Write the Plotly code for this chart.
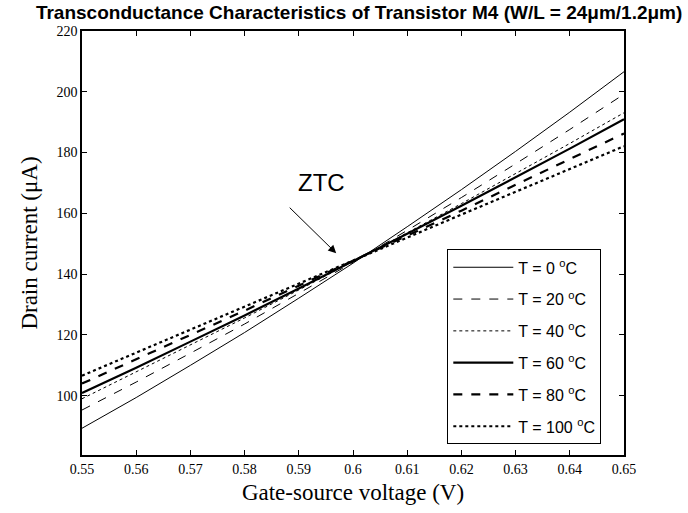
import plotly.graph_objects as go

vgs = [0.55, 0.56, 0.57, 0.58, 0.59, 0.60, 0.61, 0.62, 0.63, 0.64, 0.65]
i_t0 = [89.3, 99.4, 110.0, 120.8, 132.1, 143.6, 155.6, 167.8, 180.4, 193.3, 206.6]
i_t20 = [95.3, 104.5, 114.0, 123.6, 133.7, 143.9, 154.4, 165.2, 176.3, 187.6, 199.2]
i_t40 = [99.0, 107.8, 116.6, 125.6, 134.8, 144.1, 153.6, 163.2, 173.0, 183.0, 193.1]
i_t60 = [100.9, 109.2, 117.8, 126.4, 135.3, 144.2, 153.3, 162.5, 171.9, 181.3, 191.0]
i_t80 = [104.0, 112.0, 119.9, 128.0, 136.2, 144.4, 152.6, 160.9, 169.4, 177.8, 186.3]
i_t100 = [106.6, 114.2, 121.7, 129.4, 136.9, 144.5, 152.0, 159.6, 167.1, 174.6, 182.1]

series_names = ["T = 0 <sup>o</sup>C", "T = 20 <sup>o</sup>C", "T = 40 <sup>o</sup>C",
                "T = 60 <sup>o</sup>C", "T = 80 <sup>o</sup>C", "T = 100 <sup>o</sup>C"]
series_vals = [i_t0, i_t20, i_t40, i_t60, i_t80, i_t100]
series_dash = ["solid", "dash", "dot", "solid", "dash", "dot"]
series_width = [1, 1, 1, 2.2, 2.2, 2.2]

xtick_vals = [0.55, 0.56, 0.57, 0.58, 0.59, 0.60, 0.61, 0.62, 0.63, 0.64, 0.65]
xtick_text = ["0.55", "0.56", "0.57", "0.58", "0.59", "0.6", "0.61", "0.62", "0.63", "0.64", "0.65"]
ytick_vals = [100, 120, 140, 160, 180, 200, 220]

fig = go.Figure()
for k, (name, vals, dash, w) in enumerate(zip(series_names, series_vals, series_dash, series_width)):
    fig.add_trace(go.Scatter(x=vgs, y=vals, mode="lines", name=name, legendgroup=f"g{k}",
                             line=dict(color="black", dash=dash, width=w)))

serif = "Liberation Serif, Times New Roman, serif"
sans = "Liberation Sans, Arial, sans-serif"

fig.update_layout(
    width=688, height=513,
    margin=dict(l=82, r=64, t=31, b=58),
    paper_bgcolor="white", plot_bgcolor="white",
    title=dict(text="<b>Transconductance Characteristics of Transistor M4 (W/L = 24μm/1.2μm)</b>",
               x=0.522, xanchor="center", y=0.975, yanchor="middle",
               font=dict(family=sans, size=19, color="black")),
    xaxis=dict(range=[0.55, 0.65], tickvals=xtick_vals, ticktext=xtick_text,
               ticks="inside", ticklen=5, tickcolor="black", mirror="ticks",
               showline=True, linecolor="black", linewidth=1.5, showgrid=False, zeroline=False,
               tickfont=dict(family=serif, size=14, color="black"),
               title=dict(text="Gate-source voltage (V)", font=dict(family=serif, size=23, color="black"),
                          standoff=8)),
    yaxis=dict(range=[80.5, 220], tickvals=ytick_vals,
               ticks="inside", ticklen=5, tickcolor="black", mirror="ticks",
               showline=True, linecolor="black", linewidth=1.5, showgrid=False, zeroline=False,
               tickfont=dict(family=serif, size=14, color="black"),
               title=dict(text="Drain current (μA)", font=dict(family=serif, size=23, color="black"),
                          standoff=12)),
    legend=dict(x=0.674, y=0.485, xanchor="left", yanchor="top",
                bgcolor="white", bordercolor="black", borderwidth=1,
                font=dict(family=sans, size=16, color="black"),
                itemwidth=60, tracegroupgap=8),
    showlegend=True,
)

fig.add_annotation(x=0.5969, y=146.9, xref="x", yref="y", text="", showarrow=True,
                   ax=-48, ay=-47, axref="pixel", ayref="pixel",
                   arrowhead=2, arrowsize=1.6, arrowwidth=1, arrowcolor="black")
fig.add_annotation(x=0.5969, y=146.9, xref="x", yref="y", text="ZTC", showarrow=False,
                   xshift=-15, yshift=71,
                   font=dict(family=sans, size=24, color="black"))

fig.write_html("out.html")
